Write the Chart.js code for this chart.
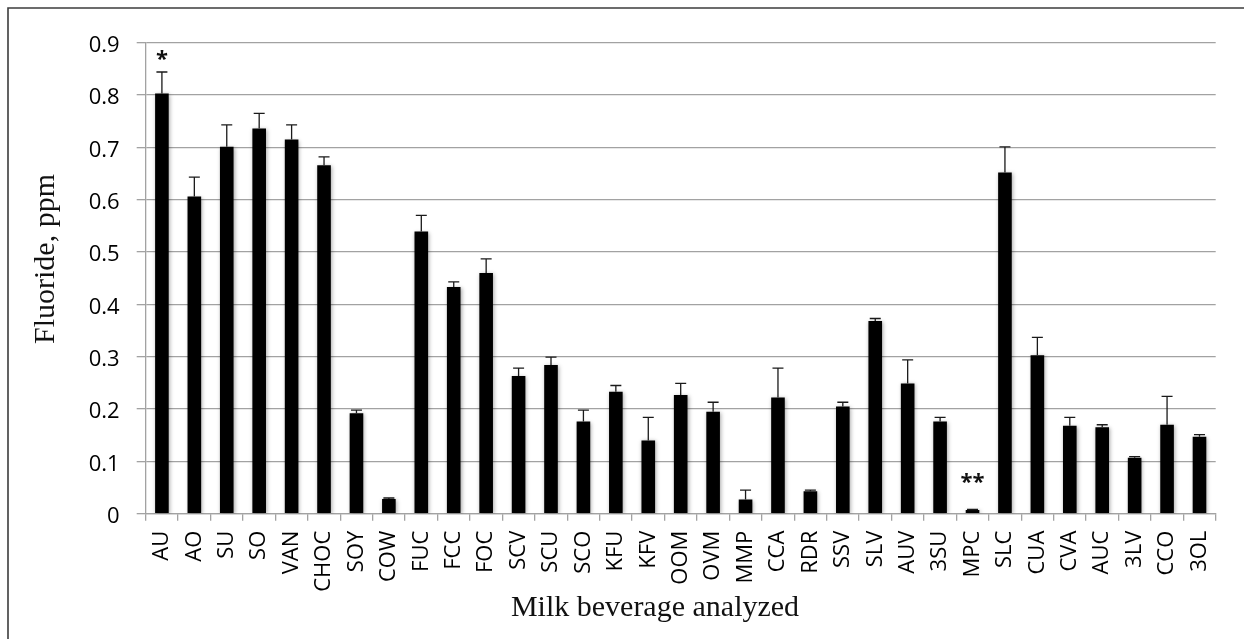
<!DOCTYPE html>
<html>
<head>
<meta charset="utf-8">
<script src="https://cdn.jsdelivr.net/npm/chart.js@4/dist/chart.umd.min.js"></script>
<style>
  html, body { margin: 0; padding: 0; background: #fff; overflow: hidden; }
  canvas { display: block; }
</style>
</head>
<body>
<canvas id="fluorideChart" width="1244" height="639"></canvas>
<script>
// Beverage codes along the x axis
const categories = ['AU', 'AO', 'SU', 'SO', 'VAN', 'CHOC', 'SOY', 'COW', 'FUC', 'FCC', 'FOC',
  'SCV', 'SCU', 'SCO', 'KFU', 'KFV', 'OOM', 'OVM', 'MMP', 'CCA', 'RDR', 'SSV', 'SLV',
  'AUV', '3SU', 'MPC', 'SLC', 'CUA', 'CVA', 'AUC', '3LV', 'CCO', '3OL'];

// Mean fluoride concentration (ppm)
const fluoride = [0.803, 0.606, 0.701, 0.736, 0.715, 0.666, 0.192, 0.028, 0.539, 0.433, 0.460,
  0.263, 0.284, 0.176, 0.233, 0.140, 0.227, 0.195, 0.027, 0.222, 0.043, 0.205, 0.368,
  0.249, 0.176, 0.007, 0.652, 0.303, 0.168, 0.165, 0.107, 0.170, 0.147];

// Standard deviation (upper error bar)
const errors = [0.041, 0.037, 0.042, 0.029, 0.028, 0.016, 0.006, 0.002, 0.031, 0.010, 0.027,
  0.015, 0.015, 0.022, 0.012, 0.044, 0.022, 0.018, 0.018, 0.056, 0.002, 0.008, 0.005,
  0.045, 0.008, 0.001, 0.049, 0.034, 0.016, 0.005, 0.002, 0.054, 0.004];

// Significance marks printed above selected bars
const significance = ['*', '', '', '', '', '', '', '', '', '', '',
  '', '', '', '', '', '', '', '', '', '', '', '',
  '', '', '**', '', '', '', '', '', '', ''];

const yTickLabels = ['0', '0.1', '0.2', '0.3', '0.4', '0.5', '0.6', '0.7', '0.8', '0.9'];
const xTitle = 'Milk beverage analyzed';
const yTitle = 'Fluoride, ppm';

const gridColor = '#a2a2a2';
const tickFont = { family: '"Open Sans", sans-serif', size: 22 };
const titleFont = '30px "Liberation Serif", "Times New Roman", serif';

// Page frame and white background
const framePlugin = {
  id: 'frame',
  beforeDraw(chart) {
    const { ctx, width, height } = chart;
    ctx.save();
    ctx.fillStyle = '#fff';
    ctx.fillRect(0, 0, width, height);
    ctx.strokeStyle = '#3c3c3c';
    ctx.lineWidth = 1.6;
    ctx.beginPath();
    ctx.moveTo(8, height);
    ctx.lineTo(8, 8);
    ctx.lineTo(width, 8);
    ctx.stroke();
    ctx.restore();
  }
};

// Soft bar shadow, error bars and significance marks
const barDecorPlugin = {
  id: 'barDecor',
  beforeDatasetsDraw(chart) {
    const ctx = chart.ctx;
    ctx.save();
    ctx.shadowColor = 'rgba(0,0,0,0.35)';
    ctx.shadowBlur = 4;
    ctx.shadowOffsetX = 1;
    ctx.shadowOffsetY = 1;
  },
  afterDatasetsDraw(chart, args, opts) {
    const ctx = chart.ctx;
    ctx.restore();
    const yScale = chart.scales.y;
    const meta = chart.getDatasetMeta(0);
    ctx.save();
    ctx.strokeStyle = '#1a1a1a';
    ctx.lineWidth = 1.3;
    meta.data.forEach((bar, i) => {
      const top = yScale.getPixelForValue(fluoride[i] + errors[i]);
      ctx.beginPath();
      ctx.moveTo(bar.x, bar.y);
      ctx.lineTo(bar.x, top);
      ctx.moveTo(bar.x - 5.5, top);
      ctx.lineTo(bar.x + 5.5, top);
      ctx.stroke();
    });
    ctx.fillStyle = '#111';
    ctx.font = 'bold 22px "Open Sans", sans-serif';
    ctx.textAlign = 'center';
    ctx.textBaseline = 'alphabetic';
    meta.data.forEach((bar, i) => {
      if (!significance[i]) return;
      const top = yScale.getPixelForValue(fluoride[i] + errors[i]);
      const gap = (opts.gaps && opts.gaps[i] !== undefined) ? opts.gaps[i] : 6;
      ctx.fillText(significance[i], bar.x, top - gap);
    });
    ctx.restore();
  }
};

// Axis captions
const captionPlugin = {
  id: 'captions',
  afterDraw(chart, args, opts) {
    const ctx = chart.ctx;
    ctx.save();
    ctx.fillStyle = '#111';
    ctx.font = titleFont;
    ctx.textAlign = 'center';
    ctx.textBaseline = 'alphabetic';
    ctx.fillText(xTitle, opts.x.cx, opts.x.baseline);
    ctx.translate(opts.y.cx, opts.y.cy);
    ctx.rotate(-Math.PI / 2);
    ctx.textBaseline = 'middle';
    ctx.fillText(yTitle, 0, 0);
    ctx.restore();
  }
};

new Chart(document.getElementById('fluorideChart'), {
  type: 'bar',
  data: {
    labels: categories,
    datasets: [{
      data: fluoride,
      backgroundColor: '#000',
      borderWidth: 0,
      barPercentage: 0.42,
      categoryPercentage: 1.0
    }]
  },
  options: {
    responsive: false,
    animation: false,
    devicePixelRatio: 1,
    layout: { padding: { left: 26, top: 42.7, right: 28.3, bottom: 10 } },
    plugins: {
      legend: { display: false },
      tooltip: { enabled: false },
      barDecor: { gaps: { 0: 6, 25: 21 } },
      captions: { x: { cx: 655, baseline: 616 }, y: { cx: 46, cy: 259 } }
    },
    scales: {
      x: {
        afterFit(scale) { scale.height = 115.3; },
        grid: {
          offset: true,
          drawOnChartArea: false,
          drawTicks: true,
          tickLength: 7,
          color: gridColor,
          lineWidth: 1.3
        },
        border: { color: gridColor, width: 1.3 },
        ticks: {
          autoSkip: false,
          minRotation: 90,
          maxRotation: 90,
          padding: 10,
          color: '#000',
          font: tickFont
        }
      },
      y: {
        min: 0,
        max: 0.9,
        afterFit(scale) { scale.width = 119.7; },
        grid: { color: gridColor, lineWidth: 1.3, tickLength: 9 },
        border: { color: gridColor, width: 1.3 },
        ticks: {
          stepSize: 0.1,
          padding: 17,
          labelOffset: 3,
          color: '#000',
          font: tickFont,
          callback: (value, index) => yTickLabels[index]
        }
      }
    }
  },
  plugins: [framePlugin, barDecorPlugin, captionPlugin]
});
</script>
</body>
</html>
